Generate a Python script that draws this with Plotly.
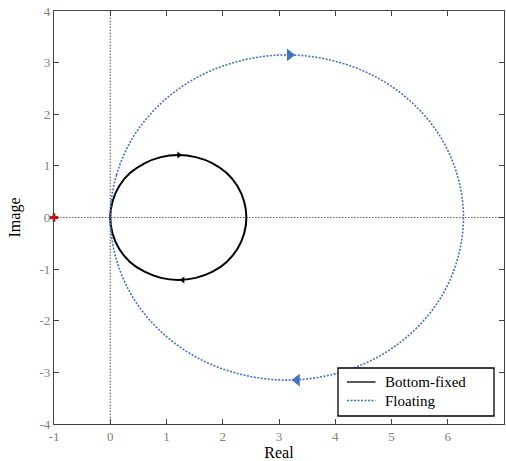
import plotly.graph_objects as go

# Nyquist loci (real / imaginary parts), traversed clockwise from the origin
bottom_fixed_re = [0.00, 0.04, 0.16, 0.35, 0.61, 0.90, 1.21, 1.52, 1.82, 2.07, 2.26, 2.38, 2.42,
                   2.38, 2.26, 2.07, 1.82, 1.52, 1.21, 0.90, 0.61, 0.35, 0.16, 0.04, 0.00]
bottom_fixed_im = [0.00, 0.31, 0.61, 0.86, 1.05, 1.17, 1.21, 1.17, 1.05, 0.86, 0.61, 0.31, 0.00,
                   -0.31, -0.61, -0.86, -1.05, -1.17, -1.21, -1.17, -1.05, -0.86, -0.61, -0.31, 0.00]
floating_re = [0.00, 0.11, 0.42, 0.92, 1.57, 2.33, 3.14, 3.95, 4.71, 5.36, 5.86, 6.17, 6.28,
               6.17, 5.86, 5.36, 4.71, 3.95, 3.14, 2.33, 1.57, 0.92, 0.42, 0.11, 0.00]
floating_im = [0.00, 0.82, 1.58, 2.23, 2.73, 3.04, 3.15, 3.04, 2.73, 2.23, 1.58, 0.82, 0.00,
               -0.82, -1.58, -2.23, -2.73, -3.04, -3.15, -3.04, -2.73, -2.23, -1.58, -0.82, 0.00]

# direction arrows (position, orientation)
bf_arrow_re = [1.22, 1.29]
bf_arrow_im = [1.21, -1.21]
fl_arrow_re = [3.19, 3.32]
fl_arrow_im = [3.15, -3.15]
arrow_symbols = ["triangle-right", "triangle-left"]

# critical point
crit_re = [-1]
crit_im = [0]

x_ticks = [-1, 0, 1, 2, 3, 4, 5, 6, 7]
y_ticks = [-4, -3, -2, -1, 0, 1, 2, 3, 4]

series_names = ["Bottom-fixed", "Floating"]

BLUE = "#4472C4"
SERIF = "Liberation Serif"
W, H = 506, 461
M_L, M_R, M_T, M_B = 54, 2, 11, 37

fig = go.Figure()

fig.add_trace(go.Scatter(
    x=bottom_fixed_re, y=bottom_fixed_im, mode="lines", name=series_names[0],
    line=dict(color="black", width=2, shape="spline", smoothing=1.0),
))
fig.add_trace(go.Scatter(
    x=floating_re, y=floating_im, mode="lines", name=series_names[1],
    line=dict(color=BLUE, width=1.6, dash="2px,1.5px", shape="spline", smoothing=1.0),
))
fig.add_trace(go.Scatter(
    x=bf_arrow_re, y=bf_arrow_im, mode="markers",
    marker=dict(symbol=arrow_symbols, size=6, color="black"),
))
fig.add_trace(go.Scatter(
    x=fl_arrow_re, y=fl_arrow_im, mode="markers",
    marker=dict(symbol=arrow_symbols, size=11, color=BLUE),
))
fig.add_trace(go.Scatter(
    x=crit_re, y=crit_im, mode="markers", cliponaxis=False,
    marker=dict(symbol="cross", size=7, color="red"),
))

# dotted reference axes
fig.add_shape(type="line", x0=0, x1=0, y0=-4, y1=4, layer="below",
              line=dict(color="#666666", width=1.1, dash="1.5px,1.5px"))
fig.add_shape(type="line", x0=-1, x1=7, y0=0, y1=0, layer="below",
              line=dict(color="#666666", width=1.1, dash="1.5px,1.5px"))


# legend box (boxed, lower right), placed in pixel terms of the plot area
def px_x(p):
    return (p - M_L) / (W - M_L - M_R)


def px_y(p):
    return (H - M_B - p) / (H - M_T - M_B)


fig.add_shape(type="rect", xref="paper", yref="paper",
              x0=px_x(338), x1=px_x(494), y0=px_y(416), y1=px_y(368),
              fillcolor="white", line=dict(color="black", width=1.3), layer="above")
legend_rows = [382, 400.5]
legend_styles = [dict(color="black", width=1.3),
                 dict(color=BLUE, width=1.6, dash="2px,1.5px")]
for name, row, style in zip(series_names, legend_rows, legend_styles):
    fig.add_shape(type="line", xref="paper", yref="paper",
                  x0=px_x(347), x1=px_x(375.5), y0=px_y(row), y1=px_y(row),
                  line=style, layer="above")
    fig.add_annotation(xref="paper", yref="paper", x=px_x(383), y=px_y(row),
                       text=name, showarrow=False, xanchor="left", yanchor="middle",
                       font=dict(family=SERIF, size=15, color="black"))

axis_common = dict(
    showgrid=False, zeroline=False, showline=True, mirror="ticks",
    linecolor="#444444", linewidth=1.2, ticks="inside", ticklen=5,
    tickcolor="#444444", tickwidth=1.2,
    tickfont=dict(family=SERIF, size=13, color="#808080"),
)

fig.update_layout(
    width=W, height=H,
    margin=dict(l=M_L, r=M_R, t=M_T, b=M_B),
    paper_bgcolor="white", plot_bgcolor="white",
    font=dict(family=SERIF),
    showlegend=False,
    xaxis=dict(range=[-1, 7], tickvals=x_ticks, ticktext=[str(v) for v in x_ticks],
               title=dict(text="Real", font=dict(family=SERIF, size=16, color="black"), standoff=3),
               **axis_common),
    yaxis=dict(range=[-4, 4], tickvals=y_ticks, ticktext=[str(v) for v in y_ticks],
               title=dict(text="Image", font=dict(family=SERIF, size=16, color="black"), standoff=14),
               **axis_common),
)

fig.write_html("out.html")
